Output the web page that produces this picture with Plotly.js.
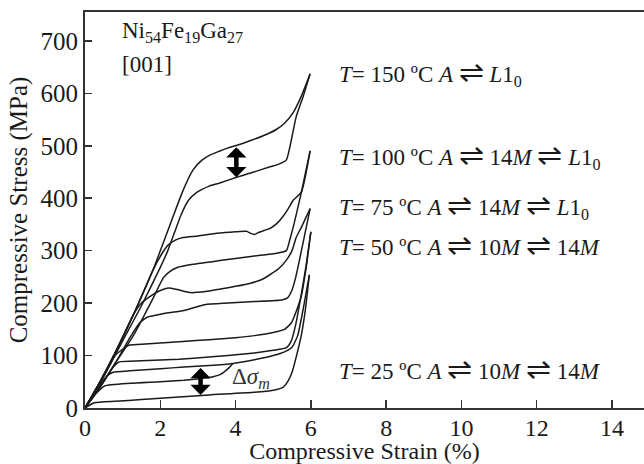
<!DOCTYPE html>
<html>
<head>
<meta charset="utf-8">
<script src="https://cdn.plot.ly/plotly-3.0.1.min.js"></script>
<style>html,body{margin:0;padding:0;background:#fff;}#chart{width:644px;height:464px;}</style>
</head>
<body>
<div id="chart"></div>
<script>
// ---- data (strain %, stress MPa) ----
var load150Strain   = [0,0.4,0.8,1.3,1.8,2.08,2.34,2.6,2.87,3.1,3.34,3.58,3.8,4.0,4.4,4.8,5.08,5.3,5.53,5.75,5.98];
var load150Stress   = [0,50,105,180,262,315,365,414,454,472,483,490,496,500,510,521,531,543,563,595,637];
var unload150Strain = [5.98,5.8,5.61,5.45,5.35,5.15,4.92,4.4,4.03,3.58,3.3,2.97,2.75,2.55,2.38,2.2,2.0,1.5,1.0,0.5,0];
var unload150Stress = [637,595,555,500,473,465,460,448,440,429,423,411,396,368,335,300,268,195,128,60,0];

var load100Strain   = [0,0.4,0.8,1.3,1.8,2.05,2.2,2.4,2.6,3.0,3.5,4.0,4.29,4.4,4.5,4.62,4.93,5.1,5.27,5.4,5.53,5.75,5.98];
var load100Stress   = [0,50,105,180,262,295,310,320,325,328,333,336,337,333,331,335,343,352,366,380,396,412,490];
var unload100Strain = [5.98,5.75,5.55,5.43,5.35,5.0,4.5,4.0,3.58,2.87,2.45,2.25,2.08,1.8,1.3,0.8,0.4,0];
var unload100Stress = [490,412,350,318,300,294,290,285,281,274,268,260,248,208,140,85,40,0];

var load75Strain    = [0,0.4,0.8,1.3,1.5,1.75,2.0,2.22,2.45,2.8,3.2,3.6,4.0,4.4,4.7,4.93,5.15,5.35,5.5,5.61,5.75,5.98];
var load75Stress    = [0,50,105,180,200,214,224,229,226,220,222,227,232,238,245,255,266,282,300,325,345,380];
var unload75Strain  = [5.98,5.85,5.72,5.6,5.5,5.38,5.22,4.5,3.8,3.18,2.63,2.1,1.65,1.45,1.2,0.8,0.4,0];
var unload75Stress  = [380,335,290,250,225,210,206,203,200,197,186,180,173,162,135,85,40,0];

var load50Strain    = [0,0.4,0.8,1.0,1.18,1.6,2.0,2.6,3.29,4.0,4.5,5.0,5.3,5.48,5.6,5.75,5.88,6.0];
var load50Stress    = [0,50,100,112,120,122,124,127,130,134,138,144,150,162,182,215,270,336];
var unload50Strain  = [6.0,5.87,5.73,5.6,5.48,5.35,5.0,4.5,3.8,3.29,2.5,1.5,0.91,0.75,0.4,0];
var unload50Stress  = [336,270,210,160,128,115,110,105,100,97,93,90,88,78,40,0];

var load25Strain    = [0,0.3,0.6,0.75,1.2,2.0,2.63,3.3,3.93,4.5,5.0,5.3,5.5,5.65,5.8,5.96];
var load25Stress    = [0,35,62,68,71,75,78,81,85,92,100,107,116,138,190,254];
var minor25Strain   = [3.93,3.8,3.6,3.3,3.05,2.63,2.0,1.2,0.52,0.3,0];
var minor25Stress   = [85,75,64,58,56,53,50,47,42,28,0];
var unload25Strain  = [5.96,5.85,5.75,5.61,5.5,5.4,5.27,5.0,4.5,3.3,2.5,1.5,0.8,0.25,0];
var unload25Stress  = [254,185,140,97,68,52,40,34,30,25,21,16,13,10,0];

var xTicks = [0,2,4,6,8,10,12,14];
var yTicks = [0,100,200,300,400,500,600,700];

var EQ = '<span style="font-size:30px">⇌</span>';
var curveLabels = [
  {text:'<i>T</i>= 150 ºC <i>A</i> ' + EQ + ' <i>L</i>1<sub>0</sub>', y:639},
  {text:'<i>T</i>= 100 ºC <i>A</i> ' + EQ + ' 14<i>M</i> ' + EQ + ' <i>L</i>1<sub>0</sub>', y:482},
  {text:'<i>T</i>= 75 ºC <i>A</i> ' + EQ + ' 14<i>M</i> ' + EQ + ' <i>L</i>1<sub>0</sub>', y:387},
  {text:'<i>T</i>= 50 ºC <i>A</i> ' + EQ + ' 10<i>M</i> ' + EQ + ' 14<i>M</i>', y:311},
  {text:'<i>T</i>= 25 ºC <i>A</i> ' + EQ + ' 10<i>M</i> ' + EQ + ' 14<i>M</i>', y:76}
];

// ---- build traces ----
var series = [
  [load150Strain, load150Stress], [unload150Strain, unload150Stress],
  [load100Strain, load100Stress], [unload100Strain, unload100Stress],
  [load75Strain, load75Stress],   [unload75Strain, unload75Stress],
  [load50Strain, load50Stress],   [unload50Strain, unload50Stress],
  [load25Strain, load25Stress],   [minor25Strain, minor25Stress], [unload25Strain, unload25Stress]
];
var traces = series.map(function(s){
  return {x:s[0], y:s[1], type:'scatter', mode:'lines',
          line:{color:'#1a1a1a', width:1.5, shape:'spline', smoothing:0.5},
          hoverinfo:'skip', showlegend:false};
});

var FONT = 'Liberation Serif, Times New Roman, serif';
var annotations = [];
curveLabels.forEach(function(c){
  annotations.push({x:6.7, y:c.y, xref:'x', yref:'y', text:c.text, showarrow:false,
    xanchor:'left', yanchor:'middle', font:{family:FONT, size:23, color:'#1a1a1a'}});
});
annotations.push({x:0.94, y:717, xref:'x', yref:'y', text:'Ni<sub>54</sub>Fe<sub>19</sub>Ga<sub>27</sub>',
  showarrow:false, xanchor:'left', yanchor:'middle', font:{family:FONT, size:23, color:'#1a1a1a'}});
annotations.push({x:0.94, y:654, xref:'x', yref:'y', text:'[001]',
  showarrow:false, xanchor:'left', yanchor:'middle', font:{family:FONT, size:23, color:'#1a1a1a'}});
annotations.push({x:3.86, y:58, xref:'x', yref:'y', text:'Δ<i>σ</i><sub><i>m</i></sub>',
  showarrow:false, xanchor:'left', yanchor:'middle', font:{family:FONT, size:23, color:'#333'}});
// double-headed arrows
[[4.02,500,440],[3.07,79,25]].forEach(function(a){
  annotations.push({x:a[0], y:a[2], ax:a[0], ay:a[1], xref:'x', yref:'y', axref:'x', ayref:'y',
    text:'', showarrow:true, arrowhead:1, startarrowhead:1, arrowside:'end+start',
    arrowwidth:4.5, arrowsize:0.75, startarrowsize:0.75, arrowcolor:'#000', standoff:0, startstandoff:0});
});

var layout = {
  width:644, height:464,
  margin:{l:85, r:0, t:12, b:56},
  paper_bgcolor:'#fff', plot_bgcolor:'#fff',
  font:{family:FONT, size:25, color:'#1a1a1a'},
  xaxis:{range:[0,14.85], tickvals:xTicks, ticktext:xTicks.map(String),
    showline:true, linecolor:'#333', linewidth:2, mirror:true,
    ticks:'inside', ticklen:8, tickwidth:1.5, tickcolor:'#333', ticklabelstandoff:-3,
    showgrid:false, zeroline:false, tickfont:{family:FONT, size:24, color:'#1a1a1a'},
    title:{text:'Compressive Strain (%)', font:{family:FONT, size:24, color:'#1a1a1a'}, standoff:0}},
  yaxis:{range:[0,755], tickvals:yTicks, ticktext:yTicks.map(String),
    showline:true, linecolor:'#333', linewidth:2,
    ticks:'inside', ticklen:7, tickwidth:1.5, tickcolor:'#333',
    showgrid:false, zeroline:false, tickfont:{family:FONT, size:25, color:'#1a1a1a'},
    title:{text:'Compressive Stress (MPa)', font:{family:FONT, size:25, color:'#1a1a1a'}, standoff:6}},
  annotations:annotations
};

Plotly.newPlot('chart', traces, layout, {displayModeBar:false, staticPlot:true});
</script>
</body>
</html>
